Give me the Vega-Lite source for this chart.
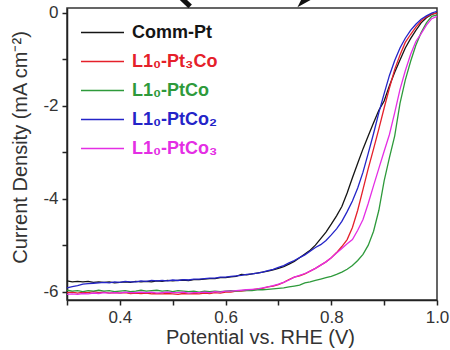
{
  "$schema": "https://vega.github.io/schema/vega-lite/v6.json",
  "autosize": {"type": "none"},
  "padding": {"left": 67, "top": 8, "right": 13, "bottom": 50},
  "width": 370,
  "height": 292,
  "background": "white",
  "datasets": {
    "curves": [
      {"s":"Comm-Pt","x":0.30,"y":-5.77},{"s":"Comm-Pt","x":0.31,"y":-5.79},{"s":"Comm-Pt","x":0.32,"y":-5.78},{"s":"Comm-Pt","x":0.33,"y":-5.79},{"s":"Comm-Pt","x":0.34,"y":-5.78},{"s":"Comm-Pt","x":0.35,"y":-5.80},{"s":"Comm-Pt","x":0.36,"y":-5.79},{"s":"Comm-Pt","x":0.37,"y":-5.80},{"s":"Comm-Pt","x":0.38,"y":-5.79},{"s":"Comm-Pt","x":0.39,"y":-5.81},{"s":"Comm-Pt","x":0.40,"y":-5.80},{"s":"Comm-Pt","x":0.41,"y":-5.79},{"s":"Comm-Pt","x":0.42,"y":-5.80},{"s":"Comm-Pt","x":0.43,"y":-5.78},{"s":"Comm-Pt","x":0.44,"y":-5.79},{"s":"Comm-Pt","x":0.45,"y":-5.78},{"s":"Comm-Pt","x":0.46,"y":-5.79},{"s":"Comm-Pt","x":0.47,"y":-5.77},{"s":"Comm-Pt","x":0.48,"y":-5.78},{"s":"Comm-Pt","x":0.49,"y":-5.76},{"s":"Comm-Pt","x":0.50,"y":-5.77},{"s":"Comm-Pt","x":0.51,"y":-5.76},{"s":"Comm-Pt","x":0.52,"y":-5.75},{"s":"Comm-Pt","x":0.53,"y":-5.76},{"s":"Comm-Pt","x":0.54,"y":-5.74},{"s":"Comm-Pt","x":0.55,"y":-5.74},{"s":"Comm-Pt","x":0.56,"y":-5.73},{"s":"Comm-Pt","x":0.57,"y":-5.72},{"s":"Comm-Pt","x":0.58,"y":-5.72},{"s":"Comm-Pt","x":0.59,"y":-5.70},{"s":"Comm-Pt","x":0.60,"y":-5.70},{"s":"Comm-Pt","x":0.61,"y":-5.68},{"s":"Comm-Pt","x":0.62,"y":-5.67},{"s":"Comm-Pt","x":0.63,"y":-5.63},{"s":"Comm-Pt","x":0.64,"y":-5.64},{"s":"Comm-Pt","x":0.65,"y":-5.62},{"s":"Comm-Pt","x":0.66,"y":-5.60},{"s":"Comm-Pt","x":0.67,"y":-5.58},{"s":"Comm-Pt","x":0.68,"y":-5.56},{"s":"Comm-Pt","x":0.69,"y":-5.53},{"s":"Comm-Pt","x":0.70,"y":-5.50},{"s":"Comm-Pt","x":0.71,"y":-5.46},{"s":"Comm-Pt","x":0.72,"y":-5.41},{"s":"Comm-Pt","x":0.73,"y":-5.35},{"s":"Comm-Pt","x":0.74,"y":-5.27},{"s":"Comm-Pt","x":0.75,"y":-5.19},{"s":"Comm-Pt","x":0.76,"y":-5.11},{"s":"Comm-Pt","x":0.77,"y":-5.00},{"s":"Comm-Pt","x":0.78,"y":-4.86},{"s":"Comm-Pt","x":0.79,"y":-4.72},{"s":"Comm-Pt","x":0.80,"y":-4.55},{"s":"Comm-Pt","x":0.81,"y":-4.37},{"s":"Comm-Pt","x":0.82,"y":-4.17},{"s":"Comm-Pt","x":0.83,"y":-3.88},{"s":"Comm-Pt","x":0.84,"y":-3.55},{"s":"Comm-Pt","x":0.85,"y":-3.24},{"s":"Comm-Pt","x":0.86,"y":-2.93},{"s":"Comm-Pt","x":0.87,"y":-2.65},{"s":"Comm-Pt","x":0.88,"y":-2.37},{"s":"Comm-Pt","x":0.89,"y":-2.10},{"s":"Comm-Pt","x":0.90,"y":-1.90},{"s":"Comm-Pt","x":0.91,"y":-1.57},{"s":"Comm-Pt","x":0.92,"y":-1.28},{"s":"Comm-Pt","x":0.93,"y":-1.02},{"s":"Comm-Pt","x":0.94,"y":-0.76},{"s":"Comm-Pt","x":0.95,"y":-0.56},{"s":"Comm-Pt","x":0.96,"y":-0.38},{"s":"Comm-Pt","x":0.97,"y":-0.22},{"s":"Comm-Pt","x":0.98,"y":-0.11},{"s":"Comm-Pt","x":0.99,"y":-0.04},{"s":"Comm-Pt","x":1.00,"y":0.00},

      {"s":"L1₀-Pt₃Co","x":0.30,"y":-6.02},{"s":"L1₀-Pt₃Co","x":0.31,"y":-6.01},{"s":"L1₀-Pt₃Co","x":0.32,"y":-6.03},{"s":"L1₀-Pt₃Co","x":0.33,"y":-6.01},{"s":"L1₀-Pt₃Co","x":0.34,"y":-6.02},{"s":"L1₀-Pt₃Co","x":0.35,"y":-6.00},{"s":"L1₀-Pt₃Co","x":0.36,"y":-6.02},{"s":"L1₀-Pt₃Co","x":0.37,"y":-6.01},{"s":"L1₀-Pt₃Co","x":0.38,"y":-6.03},{"s":"L1₀-Pt₃Co","x":0.39,"y":-6.02},{"s":"L1₀-Pt₃Co","x":0.40,"y":-6.03},{"s":"L1₀-Pt₃Co","x":0.41,"y":-6.02},{"s":"L1₀-Pt₃Co","x":0.42,"y":-6.04},{"s":"L1₀-Pt₃Co","x":0.43,"y":-6.03},{"s":"L1₀-Pt₃Co","x":0.44,"y":-6.04},{"s":"L1₀-Pt₃Co","x":0.45,"y":-6.03},{"s":"L1₀-Pt₃Co","x":0.46,"y":-6.05},{"s":"L1₀-Pt₃Co","x":0.47,"y":-6.04},{"s":"L1₀-Pt₃Co","x":0.48,"y":-6.05},{"s":"L1₀-Pt₃Co","x":0.49,"y":-6.04},{"s":"L1₀-Pt₃Co","x":0.50,"y":-6.05},{"s":"L1₀-Pt₃Co","x":0.51,"y":-6.06},{"s":"L1₀-Pt₃Co","x":0.52,"y":-6.04},{"s":"L1₀-Pt₃Co","x":0.53,"y":-6.05},{"s":"L1₀-Pt₃Co","x":0.54,"y":-6.04},{"s":"L1₀-Pt₃Co","x":0.55,"y":-6.05},{"s":"L1₀-Pt₃Co","x":0.56,"y":-6.03},{"s":"L1₀-Pt₃Co","x":0.57,"y":-6.04},{"s":"L1₀-Pt₃Co","x":0.58,"y":-6.02},{"s":"L1₀-Pt₃Co","x":0.59,"y":-6.03},{"s":"L1₀-Pt₃Co","x":0.60,"y":-6.01},{"s":"L1₀-Pt₃Co","x":0.61,"y":-6.01},{"s":"L1₀-Pt₃Co","x":0.62,"y":-5.99},{"s":"L1₀-Pt₃Co","x":0.63,"y":-5.99},{"s":"L1₀-Pt₃Co","x":0.64,"y":-5.97},{"s":"L1₀-Pt₃Co","x":0.65,"y":-5.96},{"s":"L1₀-Pt₃Co","x":0.66,"y":-5.94},{"s":"L1₀-Pt₃Co","x":0.67,"y":-5.93},{"s":"L1₀-Pt₃Co","x":0.68,"y":-5.90},{"s":"L1₀-Pt₃Co","x":0.69,"y":-5.88},{"s":"L1₀-Pt₃Co","x":0.70,"y":-5.85},{"s":"L1₀-Pt₃Co","x":0.71,"y":-5.80},{"s":"L1₀-Pt₃Co","x":0.72,"y":-5.74},{"s":"L1₀-Pt₃Co","x":0.73,"y":-5.69},{"s":"L1₀-Pt₃Co","x":0.74,"y":-5.66},{"s":"L1₀-Pt₃Co","x":0.75,"y":-5.62},{"s":"L1₀-Pt₃Co","x":0.76,"y":-5.56},{"s":"L1₀-Pt₃Co","x":0.77,"y":-5.50},{"s":"L1₀-Pt₃Co","x":0.78,"y":-5.43},{"s":"L1₀-Pt₃Co","x":0.79,"y":-5.36},{"s":"L1₀-Pt₃Co","x":0.80,"y":-5.27},{"s":"L1₀-Pt₃Co","x":0.81,"y":-5.16},{"s":"L1₀-Pt₃Co","x":0.82,"y":-5.03},{"s":"L1₀-Pt₃Co","x":0.83,"y":-4.88},{"s":"L1₀-Pt₃Co","x":0.84,"y":-4.62},{"s":"L1₀-Pt₃Co","x":0.85,"y":-4.25},{"s":"L1₀-Pt₃Co","x":0.86,"y":-3.80},{"s":"L1₀-Pt₃Co","x":0.87,"y":-3.35},{"s":"L1₀-Pt₃Co","x":0.88,"y":-2.93},{"s":"L1₀-Pt₃Co","x":0.89,"y":-2.50},{"s":"L1₀-Pt₃Co","x":0.90,"y":-2.05},{"s":"L1₀-Pt₃Co","x":0.91,"y":-1.62},{"s":"L1₀-Pt₃Co","x":0.92,"y":-1.22},{"s":"L1₀-Pt₃Co","x":0.93,"y":-0.91},{"s":"L1₀-Pt₃Co","x":0.94,"y":-0.64},{"s":"L1₀-Pt₃Co","x":0.95,"y":-0.47},{"s":"L1₀-Pt₃Co","x":0.96,"y":-0.31},{"s":"L1₀-Pt₃Co","x":0.97,"y":-0.18},{"s":"L1₀-Pt₃Co","x":0.98,"y":-0.09},{"s":"L1₀-Pt₃Co","x":0.99,"y":-0.03},{"s":"L1₀-Pt₃Co","x":1.00,"y":-0.01},

      {"s":"L1₀-PtCo","x":0.30,"y":-5.97},{"s":"L1₀-PtCo","x":0.31,"y":-5.99},{"s":"L1₀-PtCo","x":0.32,"y":-5.98},{"s":"L1₀-PtCo","x":0.33,"y":-6.00},{"s":"L1₀-PtCo","x":0.34,"y":-5.98},{"s":"L1₀-PtCo","x":0.35,"y":-5.99},{"s":"L1₀-PtCo","x":0.36,"y":-5.97},{"s":"L1₀-PtCo","x":0.37,"y":-5.99},{"s":"L1₀-PtCo","x":0.38,"y":-5.98},{"s":"L1₀-PtCo","x":0.39,"y":-6.00},{"s":"L1₀-PtCo","x":0.40,"y":-5.99},{"s":"L1₀-PtCo","x":0.41,"y":-5.98},{"s":"L1₀-PtCo","x":0.42,"y":-6.00},{"s":"L1₀-PtCo","x":0.43,"y":-5.99},{"s":"L1₀-PtCo","x":0.44,"y":-5.97},{"s":"L1₀-PtCo","x":0.45,"y":-5.99},{"s":"L1₀-PtCo","x":0.46,"y":-5.98},{"s":"L1₀-PtCo","x":0.47,"y":-5.97},{"s":"L1₀-PtCo","x":0.48,"y":-5.99},{"s":"L1₀-PtCo","x":0.49,"y":-5.98},{"s":"L1₀-PtCo","x":0.50,"y":-6.00},{"s":"L1₀-PtCo","x":0.51,"y":-5.98},{"s":"L1₀-PtCo","x":0.52,"y":-5.99},{"s":"L1₀-PtCo","x":0.53,"y":-6.00},{"s":"L1₀-PtCo","x":0.54,"y":-5.99},{"s":"L1₀-PtCo","x":0.55,"y":-6.01},{"s":"L1₀-PtCo","x":0.56,"y":-5.99},{"s":"L1₀-PtCo","x":0.57,"y":-6.00},{"s":"L1₀-PtCo","x":0.58,"y":-5.99},{"s":"L1₀-PtCo","x":0.59,"y":-6.00},{"s":"L1₀-PtCo","x":0.60,"y":-5.99},{"s":"L1₀-PtCo","x":0.61,"y":-5.98},{"s":"L1₀-PtCo","x":0.62,"y":-5.99},{"s":"L1₀-PtCo","x":0.63,"y":-5.98},{"s":"L1₀-PtCo","x":0.64,"y":-5.97},{"s":"L1₀-PtCo","x":0.65,"y":-5.98},{"s":"L1₀-PtCo","x":0.66,"y":-5.96},{"s":"L1₀-PtCo","x":0.67,"y":-5.96},{"s":"L1₀-PtCo","x":0.68,"y":-5.95},{"s":"L1₀-PtCo","x":0.69,"y":-5.94},{"s":"L1₀-PtCo","x":0.70,"y":-5.93},{"s":"L1₀-PtCo","x":0.71,"y":-5.92},{"s":"L1₀-PtCo","x":0.72,"y":-5.90},{"s":"L1₀-PtCo","x":0.73,"y":-5.88},{"s":"L1₀-PtCo","x":0.74,"y":-5.86},{"s":"L1₀-PtCo","x":0.75,"y":-5.81},{"s":"L1₀-PtCo","x":0.76,"y":-5.79},{"s":"L1₀-PtCo","x":0.77,"y":-5.76},{"s":"L1₀-PtCo","x":0.78,"y":-5.73},{"s":"L1₀-PtCo","x":0.79,"y":-5.70},{"s":"L1₀-PtCo","x":0.80,"y":-5.67},{"s":"L1₀-PtCo","x":0.81,"y":-5.63},{"s":"L1₀-PtCo","x":0.82,"y":-5.58},{"s":"L1₀-PtCo","x":0.83,"y":-5.52},{"s":"L1₀-PtCo","x":0.84,"y":-5.44},{"s":"L1₀-PtCo","x":0.85,"y":-5.33},{"s":"L1₀-PtCo","x":0.86,"y":-5.20},{"s":"L1₀-PtCo","x":0.87,"y":-5.00},{"s":"L1₀-PtCo","x":0.88,"y":-4.70},{"s":"L1₀-PtCo","x":0.89,"y":-4.25},{"s":"L1₀-PtCo","x":0.90,"y":-3.62},{"s":"L1₀-PtCo","x":0.91,"y":-3.12},{"s":"L1₀-PtCo","x":0.92,"y":-2.65},{"s":"L1₀-PtCo","x":0.93,"y":-1.95},{"s":"L1₀-PtCo","x":0.94,"y":-1.45},{"s":"L1₀-PtCo","x":0.95,"y":-1.05},{"s":"L1₀-PtCo","x":0.96,"y":-0.70},{"s":"L1₀-PtCo","x":0.97,"y":-0.43},{"s":"L1₀-PtCo","x":0.98,"y":-0.22},{"s":"L1₀-PtCo","x":0.99,"y":-0.08},{"s":"L1₀-PtCo","x":1.00,"y":-0.05},

      {"s":"L1₀-PtCo₂","x":0.30,"y":-5.92},{"s":"L1₀-PtCo₂","x":0.31,"y":-5.89},{"s":"L1₀-PtCo₂","x":0.32,"y":-5.87},{"s":"L1₀-PtCo₂","x":0.33,"y":-5.84},{"s":"L1₀-PtCo₂","x":0.34,"y":-5.83},{"s":"L1₀-PtCo₂","x":0.35,"y":-5.82},{"s":"L1₀-PtCo₂","x":0.36,"y":-5.81},{"s":"L1₀-PtCo₂","x":0.37,"y":-5.80},{"s":"L1₀-PtCo₂","x":0.38,"y":-5.81},{"s":"L1₀-PtCo₂","x":0.39,"y":-5.79},{"s":"L1₀-PtCo₂","x":0.40,"y":-5.80},{"s":"L1₀-PtCo₂","x":0.41,"y":-5.78},{"s":"L1₀-PtCo₂","x":0.42,"y":-5.79},{"s":"L1₀-PtCo₂","x":0.43,"y":-5.79},{"s":"L1₀-PtCo₂","x":0.44,"y":-5.77},{"s":"L1₀-PtCo₂","x":0.45,"y":-5.78},{"s":"L1₀-PtCo₂","x":0.46,"y":-5.76},{"s":"L1₀-PtCo₂","x":0.47,"y":-5.77},{"s":"L1₀-PtCo₂","x":0.48,"y":-5.76},{"s":"L1₀-PtCo₂","x":0.49,"y":-5.77},{"s":"L1₀-PtCo₂","x":0.50,"y":-5.75},{"s":"L1₀-PtCo₂","x":0.51,"y":-5.76},{"s":"L1₀-PtCo₂","x":0.52,"y":-5.74},{"s":"L1₀-PtCo₂","x":0.53,"y":-5.75},{"s":"L1₀-PtCo₂","x":0.54,"y":-5.73},{"s":"L1₀-PtCo₂","x":0.55,"y":-5.73},{"s":"L1₀-PtCo₂","x":0.56,"y":-5.72},{"s":"L1₀-PtCo₂","x":0.57,"y":-5.71},{"s":"L1₀-PtCo₂","x":0.58,"y":-5.71},{"s":"L1₀-PtCo₂","x":0.59,"y":-5.69},{"s":"L1₀-PtCo₂","x":0.60,"y":-5.69},{"s":"L1₀-PtCo₂","x":0.61,"y":-5.67},{"s":"L1₀-PtCo₂","x":0.62,"y":-5.66},{"s":"L1₀-PtCo₂","x":0.63,"y":-5.65},{"s":"L1₀-PtCo₂","x":0.64,"y":-5.63},{"s":"L1₀-PtCo₂","x":0.65,"y":-5.62},{"s":"L1₀-PtCo₂","x":0.66,"y":-5.60},{"s":"L1₀-PtCo₂","x":0.67,"y":-5.58},{"s":"L1₀-PtCo₂","x":0.68,"y":-5.55},{"s":"L1₀-PtCo₂","x":0.69,"y":-5.52},{"s":"L1₀-PtCo₂","x":0.70,"y":-5.48},{"s":"L1₀-PtCo₂","x":0.71,"y":-5.44},{"s":"L1₀-PtCo₂","x":0.72,"y":-5.38},{"s":"L1₀-PtCo₂","x":0.73,"y":-5.33},{"s":"L1₀-PtCo₂","x":0.74,"y":-5.27},{"s":"L1₀-PtCo₂","x":0.75,"y":-5.21},{"s":"L1₀-PtCo₂","x":0.76,"y":-5.13},{"s":"L1₀-PtCo₂","x":0.77,"y":-5.05},{"s":"L1₀-PtCo₂","x":0.78,"y":-4.99},{"s":"L1₀-PtCo₂","x":0.79,"y":-4.90},{"s":"L1₀-PtCo₂","x":0.80,"y":-4.78},{"s":"L1₀-PtCo₂","x":0.81,"y":-4.65},{"s":"L1₀-PtCo₂","x":0.82,"y":-4.49},{"s":"L1₀-PtCo₂","x":0.83,"y":-4.28},{"s":"L1₀-PtCo₂","x":0.84,"y":-4.05},{"s":"L1₀-PtCo₂","x":0.85,"y":-3.77},{"s":"L1₀-PtCo₂","x":0.86,"y":-3.43},{"s":"L1₀-PtCo₂","x":0.87,"y":-3.02},{"s":"L1₀-PtCo₂","x":0.88,"y":-2.60},{"s":"L1₀-PtCo₂","x":0.89,"y":-2.15},{"s":"L1₀-PtCo₂","x":0.90,"y":-1.74},{"s":"L1₀-PtCo₂","x":0.91,"y":-1.35},{"s":"L1₀-PtCo₂","x":0.92,"y":-1.03},{"s":"L1₀-PtCo₂","x":0.93,"y":-0.76},{"s":"L1₀-PtCo₂","x":0.94,"y":-0.55},{"s":"L1₀-PtCo₂","x":0.95,"y":-0.38},{"s":"L1₀-PtCo₂","x":0.96,"y":-0.25},{"s":"L1₀-PtCo₂","x":0.97,"y":-0.14},{"s":"L1₀-PtCo₂","x":0.98,"y":-0.07},{"s":"L1₀-PtCo₂","x":0.99,"y":-0.01},{"s":"L1₀-PtCo₂","x":1.00,"y":0.03},

      {"s":"L1₀-PtCo₃","x":0.30,"y":-6.06},{"s":"L1₀-PtCo₃","x":0.31,"y":-6.05},{"s":"L1₀-PtCo₃","x":0.32,"y":-6.06},{"s":"L1₀-PtCo₃","x":0.33,"y":-6.04},{"s":"L1₀-PtCo₃","x":0.34,"y":-6.05},{"s":"L1₀-PtCo₃","x":0.35,"y":-6.03},{"s":"L1₀-PtCo₃","x":0.36,"y":-6.04},{"s":"L1₀-PtCo₃","x":0.37,"y":-6.02},{"s":"L1₀-PtCo₃","x":0.38,"y":-6.03},{"s":"L1₀-PtCo₃","x":0.39,"y":-6.02},{"s":"L1₀-PtCo₃","x":0.40,"y":-6.03},{"s":"L1₀-PtCo₃","x":0.41,"y":-6.01},{"s":"L1₀-PtCo₃","x":0.42,"y":-6.02},{"s":"L1₀-PtCo₃","x":0.43,"y":-6.02},{"s":"L1₀-PtCo₃","x":0.44,"y":-6.01},{"s":"L1₀-PtCo₃","x":0.45,"y":-6.02},{"s":"L1₀-PtCo₃","x":0.46,"y":-6.01},{"s":"L1₀-PtCo₃","x":0.47,"y":-6.03},{"s":"L1₀-PtCo₃","x":0.48,"y":-6.02},{"s":"L1₀-PtCo₃","x":0.49,"y":-6.01},{"s":"L1₀-PtCo₃","x":0.50,"y":-6.02},{"s":"L1₀-PtCo₃","x":0.51,"y":-6.02},{"s":"L1₀-PtCo₃","x":0.52,"y":-6.01},{"s":"L1₀-PtCo₃","x":0.53,"y":-6.03},{"s":"L1₀-PtCo₃","x":0.54,"y":-6.02},{"s":"L1₀-PtCo₃","x":0.55,"y":-6.02},{"s":"L1₀-PtCo₃","x":0.56,"y":-6.01},{"s":"L1₀-PtCo₃","x":0.57,"y":-6.02},{"s":"L1₀-PtCo₃","x":0.58,"y":-6.00},{"s":"L1₀-PtCo₃","x":0.59,"y":-6.01},{"s":"L1₀-PtCo₃","x":0.60,"y":-5.99},{"s":"L1₀-PtCo₃","x":0.61,"y":-5.99},{"s":"L1₀-PtCo₃","x":0.62,"y":-5.98},{"s":"L1₀-PtCo₃","x":0.63,"y":-5.97},{"s":"L1₀-PtCo₃","x":0.64,"y":-5.96},{"s":"L1₀-PtCo₃","x":0.65,"y":-5.95},{"s":"L1₀-PtCo₃","x":0.66,"y":-5.94},{"s":"L1₀-PtCo₃","x":0.67,"y":-5.92},{"s":"L1₀-PtCo₃","x":0.68,"y":-5.90},{"s":"L1₀-PtCo₃","x":0.69,"y":-5.87},{"s":"L1₀-PtCo₃","x":0.70,"y":-5.84},{"s":"L1₀-PtCo₃","x":0.71,"y":-5.80},{"s":"L1₀-PtCo₃","x":0.72,"y":-5.75},{"s":"L1₀-PtCo₃","x":0.73,"y":-5.69},{"s":"L1₀-PtCo₃","x":0.74,"y":-5.65},{"s":"L1₀-PtCo₃","x":0.75,"y":-5.61},{"s":"L1₀-PtCo₃","x":0.76,"y":-5.56},{"s":"L1₀-PtCo₃","x":0.77,"y":-5.50},{"s":"L1₀-PtCo₃","x":0.78,"y":-5.43},{"s":"L1₀-PtCo₃","x":0.79,"y":-5.36},{"s":"L1₀-PtCo₃","x":0.80,"y":-5.27},{"s":"L1₀-PtCo₃","x":0.81,"y":-5.17},{"s":"L1₀-PtCo₃","x":0.82,"y":-5.07},{"s":"L1₀-PtCo₃","x":0.83,"y":-4.97},{"s":"L1₀-PtCo₃","x":0.84,"y":-4.88},{"s":"L1₀-PtCo₃","x":0.85,"y":-4.68},{"s":"L1₀-PtCo₃","x":0.86,"y":-4.45},{"s":"L1₀-PtCo₃","x":0.87,"y":-4.10},{"s":"L1₀-PtCo₃","x":0.88,"y":-3.72},{"s":"L1₀-PtCo₃","x":0.89,"y":-3.35},{"s":"L1₀-PtCo₃","x":0.90,"y":-2.98},{"s":"L1₀-PtCo₃","x":0.91,"y":-2.62},{"s":"L1₀-PtCo₃","x":0.92,"y":-2.15},{"s":"L1₀-PtCo₃","x":0.93,"y":-1.65},{"s":"L1₀-PtCo₃","x":0.94,"y":-1.25},{"s":"L1₀-PtCo₃","x":0.95,"y":-0.90},{"s":"L1₀-PtCo₃","x":0.96,"y":-0.62},{"s":"L1₀-PtCo₃","x":0.97,"y":-0.45},{"s":"L1₀-PtCo₃","x":0.98,"y":-0.27},{"s":"L1₀-PtCo₃","x":0.99,"y":-0.13},{"s":"L1₀-PtCo₃","x":1.00,"y":-0.08}
    ],
    "stroke": [
      {"x": 0.514, "y": 0.34},
      {"x": 0.533, "y": 0.135}
    ],
    "head": [
      {"x": 0.736, "y": 0.118}
    ]
  },
  "layer": [
    {
      "data": {"name": "curves"},
      "mark": {"type": "line", "strokeWidth": 1.3},
      "encoding": {
        "x": {
          "field": "x", "type": "quantitative",
          "scale": {"domain": [0.3, 1.0], "nice": false, "zero": false},
          "axis": {
            "title": "Potential vs. RHE (V)",
            "values": [0.3, 0.4, 0.5, 0.6, 0.7, 0.8, 0.9, 1.0],
            "labelExpr": "round(datum.value * 10) % 2 == 0 ? format(datum.value, '.1f') : ''",
            "labelFlush": false,
            "labelOverlap": false,
            "titlePadding": 2,
            "titleX": 193
          }
        },
        "y": {
          "field": "y", "type": "quantitative",
          "scale": {"domain": [-6.18, 0.1], "nice": false, "zero": false},
          "axis": {
            "title": "Current Density (mA cm⁻²)",
            "values": [-6, -5, -4, -3, -2, -1, 0],
            "labelExpr": "datum.value % 2 == 0 ? '' + datum.value : ''",
            "labelFlush": false,
            "labelOverlap": false,
            "titlePadding": 12,
            "titleY": 139
          }
        },
        "color": {
          "field": "s", "type": "nominal",
          "scale": {
            "domain": ["Comm-Pt", "L1₀-Pt₃Co", "L1₀-PtCo", "L1₀-PtCo₂", "L1₀-PtCo₃"],
            "range": ["#151515", "#e5202a", "#2e9a3b", "#2424c8", "#e42ee4"]
          },
          "legend": {
            "orient": "none",
            "legendX": 13,
            "legendY": 10,
            "title": null,
            "padding": 0,
            "symbolType": "stroke",
            "symbolSize": 1849,
            "symbolStrokeWidth": 1.5,
            "labelFont": "Liberation Sans",
            "labelFontSize": 18,
            "labelFontWeight": "bold",
            "labelOffset": 7,
            "clipHeight": 29,
            "rowPadding": 0,
            "encode": {"labels": {"update": {"fill": {"scale": "color", "field": "value"}}}}
          }
        }
      }
    },
    {
      "data": {"name": "stroke"},
      "mark": {"type": "line", "strokeWidth": 5, "color": "#111111", "strokeCap": "butt", "clip": false},
      "encoding": {
        "x": {"field": "x", "type": "quantitative"},
        "y": {"field": "y", "type": "quantitative"}
      }
    },
    {
      "data": {"name": "head"},
      "mark": {"type": "point", "shape": "M0,0L0.6,-1.2L2.2,-1.2Z", "size": 256, "filled": true, "color": "#111111", "opacity": 1, "clip": false},
      "encoding": {
        "x": {"field": "x", "type": "quantitative"},
        "y": {"field": "y", "type": "quantitative"}
      }
    }
  ],
  "config": {
    "view": {"stroke": "#333333", "strokeWidth": 1.5},
    "axis": {
      "grid": false,
      "domainColor": "#222222",
      "domainWidth": 1.5,
      "tickColor": "#222222",
      "tickWidth": 1.5,
      "tickSize": 5,
      "labelPadding": 4,
      "labelFont": "Liberation Sans",
      "labelFontSize": 17,
      "labelColor": "#333333",
      "titleFont": "Liberation Sans",
      "titleFontSize": 20,
      "titleFontWeight": "normal",
      "titleColor": "#333333"
    }
  }
}
